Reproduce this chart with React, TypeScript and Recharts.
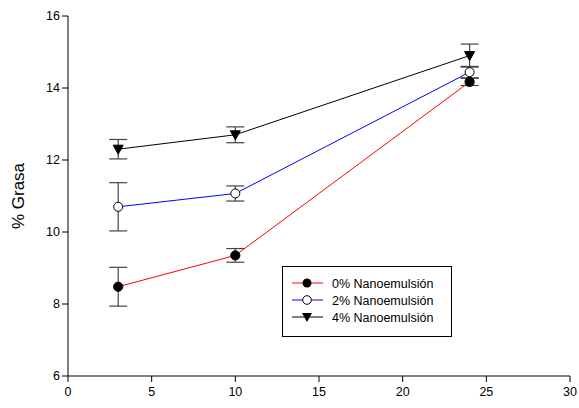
import React from 'react';
import { LineChart, Line, XAxis, YAxis, ErrorBar } from 'recharts';

const days = [3, 10, 24];
const fat0 = [8.48, 9.35, 14.17];
const fat2 = [10.7, 11.07, 14.44];
const fat4 = [12.3, 12.7, 14.9];
const err0 = [0.54, 0.19, 0.1];
const err2 = [0.67, 0.21, 0.16];
const err4 = [0.27, 0.22, 0.32];
const xTicks = [0, 5, 10, 15, 20, 25, 30];
const yTicks = [6, 8, 10, 12, 14, 16];
const seriesNames = ['0% Nanoemulsión', '2% Nanoemulsión', '4% Nanoemulsión'];

const data = days.map((d, i) => ({
  x: d,
  f0: fat0[i],
  f2: fat2[i],
  f4: fat4[i],
  e0: err0[i],
  e2: err2[i],
  e4: err4[i],
}));

const FONT = 'Liberation Sans, Arial, sans-serif';

const FilledCircle = (p: any) => (
  <circle key={`fc-${p.index}`} cx={p.cx} cy={p.cy} r={4.6} fill="#000" stroke="#000" strokeWidth={1} />
);
const OpenCircle = (p: any) => (
  <circle key={`oc-${p.index}`} cx={p.cx} cy={p.cy} r={4.5} fill="#fff" stroke="#000" strokeWidth={1} />
);
const DownTri = (p: any) => (
  <polygon
    key={`dt-${p.index}`}
    points={`${p.cx - 5},${p.cy - 4} ${p.cx + 5},${p.cy - 4} ${p.cx},${p.cy + 5}`}
    fill="#000"
    stroke="#000"
    strokeWidth={1}
  />
);

const legendColors = ['#ff0000', '#0000ff', '#000000'];

const LegendBox = () => (
  <svg width={171} height={72} style={{ display: 'block' }}>
    <rect x={0.5} y={0.5} width={169} height={70} fill="#fff" stroke="#000" strokeWidth={1} />
    {seriesNames.map((n, i) => {
      const y = 17 + i * 17;
      const cx = 25;
      return (
        <g key={n}>
          <line x1={10} x2={41} y1={y} y2={y} stroke={legendColors[i]} strokeWidth={1} />
          {i === 0 && <circle cx={cx} cy={y} r={4.5} fill="#000" />}
          {i === 1 && <circle cx={cx} cy={y} r={4.3} fill="#fff" stroke="#000" />}
          {i === 2 && (
            <polygon points={`${cx - 5},${y - 4} ${cx + 5},${y - 4} ${cx},${y + 5}`} fill="#000" />
          )}
          <text x={50} y={y + 4.5} fontSize={12.5} fontFamily={FONT} fill="#000">
            {n}
          </text>
        </g>
      );
    })}
  </svg>
);

export default function App() {
  return (
    <div style={{ position: 'absolute', left: 0, top: 0, width: 579, height: 408, background: '#fff' }}>
      <LineChart
        width={579}
        height={408}
        data={data}
        margin={{ top: 16, right: 9, bottom: 0, left: 0 }}
      >
        <XAxis
          dataKey="x"
          type="number"
          domain={[0, 30]}
          ticks={xTicks}
          tickSize={6}
          tickMargin={5}
          height={32}
          stroke="#000"
          tick={{ fill: '#000', fontSize: 12.5, fontFamily: FONT }}
          tickLine={{ stroke: '#000' }}
          axisLine={{ stroke: '#000' }}
        />
        <YAxis
          type="number"
          domain={[6, 16]}
          ticks={yTicks}
          width={68}
          tickSize={6}
          stroke="#000"
          tick={{ fill: '#000', fontSize: 12.5, fontFamily: FONT }}
          tickLine={{ stroke: '#000' }}
          axisLine={{ stroke: '#000' }}
          label={{
            value: '% Grasa',
            angle: -90,
            position: 'insideLeft',
            offset: 18,
            style: { fill: '#000', fontSize: 17, fontFamily: FONT, textAnchor: 'middle' },
          }}
        />
        <Line
          dataKey="f0"
          name={seriesNames[0]}
          stroke="#ff0000"
          strokeWidth={1}
          dot={FilledCircle}
          activeDot={false}
          isAnimationActive={false}
        >
          <ErrorBar dataKey="e0" width={9} stroke="#444" strokeWidth={1.2} direction="y" />
        </Line>
        <Line
          dataKey="f2"
          name={seriesNames[1]}
          stroke="#0000ff"
          strokeWidth={1}
          dot={OpenCircle}
          activeDot={false}
          isAnimationActive={false}
        >
          <ErrorBar dataKey="e2" width={9} stroke="#444" strokeWidth={1.2} direction="y" />
        </Line>
        <Line
          dataKey="f4"
          name={seriesNames[2]}
          stroke="#000000"
          strokeWidth={1}
          dot={DownTri}
          activeDot={false}
          isAnimationActive={false}
        >
          <ErrorBar dataKey="e4" width={9} stroke="#444" strokeWidth={1.2} direction="y" />
        </Line>
      </LineChart>
      <div style={{ position: 'absolute', left: 282, top: 266 }}>
        <LegendBox />
      </div>
    </div>
  );
}
